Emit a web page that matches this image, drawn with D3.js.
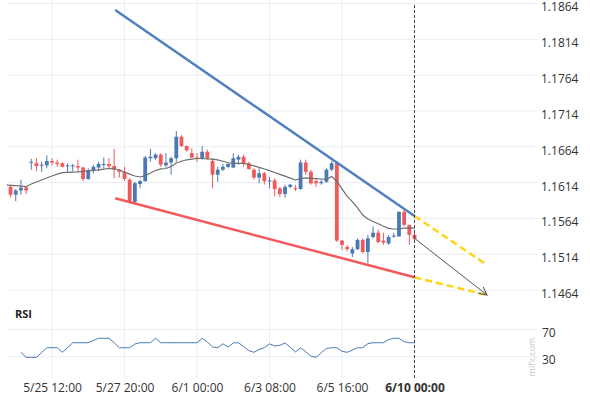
<!DOCTYPE html>
<html>
<head>
<meta charset="utf-8">
<script src="https://cdn.jsdelivr.net/npm/d3@7"></script>
<style>
  body { margin: 0; background: #fff; }
  svg text { font-family: "Open Sans", sans-serif; }
</style>
</head>
<body>
<div id="chart"></div>
<script>
// tick labels on the time axis (category index of the 4h candle they sit on)
var tickLabels = ["5/25 12:00", "5/27 20:00", "6/1 00:00", "6/3 08:00", "6/5 16:00", "6/10 00:00"]
var tickIndex = [9, 23, 37, 51, 65, 79]
var priceTicks = [1.1464, 1.1514, 1.1564, 1.1614, 1.1664, 1.1714, 1.1764, 1.1814, 1.1864]
var rsiTicks = [30, 70]

// candles
var open = [1.1612,1.1608,1.1597,1.1603,1.1607,1.1642,1.1641,1.1638,1.1638,1.1644,
  1.1642,1.1641,1.1637,1.1637,1.1637,1.1635,1.1619,1.1631,1.1635,1.1639,
  1.1640,1.1637,1.1632,1.1629,1.1618,1.1587,1.1612,1.1616,1.1648,1.1648,
  1.1653,1.1638,1.1642,1.1648,1.1678,1.1665,1.1655,1.1649,1.1648,1.1657,
  1.1644,1.1625,1.1632,1.1636,1.1635,1.1646,1.1650,1.1641,1.1632,1.1621,
  1.1627,1.1616,1.1617,1.1606,1.1598,1.1608,1.1606,1.1605,1.1642,1.1629,
  1.1616,1.1613,1.1615,1.1632,1.1641,1.1533,1.1524,1.1515,1.1521,1.1534,
  1.1517,1.1538,1.1544,1.1533,1.1529,1.1539,1.1539,1.1573,1.1555,1.1541]
var high = [1.1614,1.1611,1.1605,1.1618,1.1608,1.1647,1.1648,1.1643,1.1652,1.1648,
  1.1646,1.1642,1.1641,1.1640,1.1646,1.1636,1.1634,1.1639,1.1643,1.1649,
  1.1648,1.1661,1.1632,1.1636,1.1620,1.1615,1.1618,1.1651,1.1661,1.1655,
  1.1655,1.1655,1.1650,1.1686,1.1680,1.1666,1.1662,1.1655,1.1665,1.1660,
  1.1648,1.1636,1.1640,1.1641,1.1655,1.1653,1.1653,1.1643,1.1634,1.1634,
  1.1629,1.1622,1.1620,1.1608,1.1611,1.1612,1.1611,1.1646,1.1646,1.1632,
  1.1620,1.1618,1.1634,1.1644,1.1643,1.1534,1.1527,1.1524,1.1536,1.1536,
  1.1541,1.1553,1.1548,1.1544,1.1541,1.1544,1.1574,1.1577,1.1555,1.1545]
var low = [1.1606,1.1593,1.1588,1.1597,1.1598,1.1632,1.1630,1.1629,1.1634,1.1638,
  1.1636,1.1635,1.1629,1.1630,1.1629,1.1616,1.1618,1.1627,1.1630,1.1634,
  1.1634,1.1620,1.1621,1.1616,1.1585,1.1585,1.1606,1.1615,1.1643,1.1646,
  1.1636,1.1635,1.1625,1.1643,1.1664,1.1657,1.1648,1.1643,1.1646,1.1646,
  1.1606,1.1615,1.1630,1.1634,1.1634,1.1639,1.1636,1.1632,1.1618,1.1613,
  1.1611,1.1606,1.1595,1.1594,1.1593,1.1606,1.1602,1.1604,1.1625,1.1611,
  1.1608,1.1611,1.1614,1.1630,1.1531,1.1520,1.1518,1.1510,1.1520,1.1515,
  1.1501,1.1536,1.1529,1.1527,1.1527,1.1537,1.1538,1.1553,1.1527,1.1534]
var close = [1.1609,1.1597,1.1603,1.1607,1.1603,1.1643,1.1637,1.1639,1.1644,1.1642,
  1.1640,1.1636,1.1638,1.1638,1.1635,1.1619,1.1631,1.1636,1.1640,1.1640,
  1.1637,1.1632,1.1629,1.1619,1.1587,1.1613,1.1616,1.1649,1.1650,1.1653,
  1.1639,1.1642,1.1648,1.1678,1.1665,1.1659,1.1649,1.1648,1.1657,1.1648,
  1.1625,1.1632,1.1636,1.1640,1.1648,1.1650,1.1641,1.1633,1.1621,1.1627,
  1.1616,1.1617,1.1605,1.1598,1.1608,1.1611,1.1605,1.1642,1.1629,1.1613,
  1.1613,1.1615,1.1632,1.1641,1.1533,1.1527,1.1521,1.1521,1.1534,1.1517,
  1.1536,1.1544,1.1531,1.1530,1.1538,1.1540,1.1573,1.1555,1.1541,1.1535]

// grey moving average line
var ma = [1.16106,1.16102,1.16096,1.16089,1.16082,1.16120,1.16148,1.16176,1.16204,1.16232,
  1.16257,1.16278,1.16282,1.16286,1.16290,1.16296,1.16303,1.16311,1.16318,1.16328,
  1.16336,1.16333,1.16315,1.16287,1.16258,1.16232,1.16218,1.16236,1.16273,1.16308,
  1.16331,1.16336,1.16364,1.16413,1.16437,1.16458,1.16468,1.16476,1.16476,1.16472,
  1.16468,1.16456,1.16437,1.16417,1.16409,1.16409,1.16409,1.16392,1.16373,1.16352,
  1.16329,1.16306,1.16280,1.16255,1.16229,1.16202,1.16176,1.16195,1.16205,1.16199,
  1.16194,1.16190,1.16185,1.16225,1.16159,1.16051,1.15947,1.15873,1.15785,1.15687,
  1.15631,1.15596,1.15566,1.15529,1.15500,1.15492,1.15492,1.15503,1.15508,1.15504]

// RSI panel
var rsi = [null,null,null,36.4,29.1,29.1,29.1,36.1,43.1,43.1,
  43.1,36.4,43.1,50.4,50.4,50.4,50.4,53.7,56.9,56.9,
  56.9,50.4,43.1,43.1,43.1,48.5,50.4,50.4,50.4,56.9,
  50.4,50.4,50.4,50.4,50.4,50.4,50.4,50.4,56.9,51.5,
  44.2,43.1,48.8,44.2,50.0,50.4,44.9,38.9,36.4,40.7,
  43.1,48.7,45.6,46.6,50.0,43.9,37.0,42.8,37.3,30.7,
  29.1,35.8,42.0,43.1,43.1,37.9,36.4,39.5,43.1,43.1,
  49.1,50.4,50.4,50.4,55.0,56.9,56.9,51.8,50.4,50.4]

// drawn annotations: [candle index, price]
var upperTrend = [[21.2, 1.18549], [79, 1.15673]]
var lowerTrend = [[21.2, 1.15920], [79, 1.14817]]
var upperForecast = [[79, 1.15673], [93, 1.14989]]
var lowerForecast = [[79, 1.14817], [93, 1.14570]]
var arrowPath = [[79, 1.15362], [93, 1.14570]]

var width = 590,
    height = 400,
    plotLeft = 7,
    plotRight = 538

var upColor = "#4a79b6",
    downColor = "#f05a5b",
    gridColor = "#e8eef5"

let svg = d3.select("#chart")
  .append("svg")
    .attr("width", width)
    .attr("height", height)

var x = d3.scaleLinear().domain([9, 79]).range([52, 414.5])
var y = d3.scaleLinear().domain([1.1464, 1.1864]).range([290, 3.5])
var yR = d3.scaleLinear().domain([30, 70]).range([356.7, 329.3])

svg.append("defs").append("clipPath")
    .attr("id", "plotclip")
  .append("rect")
    .attr("x", plotLeft).attr("y", 0)
    .attr("width", plotRight - plotLeft).attr("height", 380)

svg.append("defs").append("marker")
    .attr("id", "arrowhead")
    .attr("viewBox", "0 0 10 10")
    .attr("refX", 9).attr("refY", 5)
    .attr("markerWidth", 10).attr("markerHeight", 10)
    .attr("markerUnits", "userSpaceOnUse")
    .attr("orient", "auto")
  .append("path")
    .attr("d", "M1,1 L9,5 L1,9")
    .attr("fill", "none")
    .attr("stroke", "#555")
    .attr("stroke-width", 1)

// grid
svg.append("g")
  .selectAll("line")
  .data(priceTicks)
  .enter()
  .append("line")
    .attr("x1", plotLeft).attr("x2", plotRight)
    .attr("y1", d => y(d)).attr("y2", d => y(d))
    .attr("stroke", gridColor)

svg.append("g")
  .selectAll("line")
  .data(rsiTicks)
  .enter()
  .append("line")
    .attr("x1", plotLeft).attr("x2", plotRight)
    .attr("y1", d => yR(d)).attr("y2", d => yR(d))
    .attr("stroke", gridColor)

svg.append("g")
  .selectAll("line")
  .data(tickIndex)
  .enter()
  .append("line")
    .attr("x1", d => x(d)).attr("x2", d => x(d))
    .attr("y1", 0).attr("y2", 378)
    .attr("stroke", gridColor)

// candles
var candles = open.map(function(o, i) {
  return {i: i, o: o, h: high[i], l: low[i], c: close[i]}
})
var bodyW = 3.8

var cg = svg.append("g").attr("clip-path", "url(#plotclip)")

cg.selectAll(".wick")
  .data(candles)
  .enter()
  .append("line")
    .attr("class", "wick")
    .attr("x1", d => x(d.i)).attr("x2", d => x(d.i))
    .attr("y1", d => y(d.h)).attr("y2", d => y(d.l))
    .attr("stroke", d => d.c >= d.o ? upColor : downColor)
    .attr("stroke-width", 1)

cg.selectAll(".body")
  .data(candles)
  .enter()
  .append("rect")
    .attr("class", "body")
    .attr("x", d => x(d.i) - bodyW / 2)
    .attr("width", bodyW)
    .attr("y", d => y(Math.max(d.o, d.c)))
    .attr("height", d => Math.max(1, Math.abs(y(d.o) - y(d.c))))
    .attr("fill", d => d.c >= d.o ? upColor : downColor)

// moving average
var line = d3.line()
  .x(d => x(d[0]))
  .y(d => y(d[1]))

cg.append("path")
  .datum(ma.map((v, i) => [i, v]))
  .attr("d", line)
  .attr("fill", "none")
  .attr("stroke", "#6e6e6e")
  .attr("stroke-width", 1.2)

// trend channel
svg.append("path")
  .datum(upperTrend)
  .attr("d", line)
  .attr("stroke", "#4f7fbd")
  .attr("stroke-width", 2.5)

svg.append("path")
  .datum(lowerTrend)
  .attr("d", line)
  .attr("stroke", "#f2595b")
  .attr("stroke-width", 2.5)

svg.selectAll(".forecast")
  .data([upperForecast, lowerForecast])
  .enter()
  .append("path")
    .attr("class", "forecast")
    .attr("d", line)
    .attr("stroke", "#ffd419")
    .attr("stroke-width", 2.5)
    .attr("stroke-dasharray", "7,4")

svg.append("path")
  .datum(arrowPath)
  .attr("d", line)
  .attr("stroke", "#555")
  .attr("stroke-width", 1)
  .attr("marker-end", "url(#arrowhead)")

// "now" marker
svg.append("line")
  .attr("x1", x(79)).attr("x2", x(79))
  .attr("y1", 5).attr("y2", 378)
  .attr("stroke", "#444")
  .attr("stroke-dasharray", "3,2")

// RSI line
var rsiLine = d3.line()
  .defined(d => d[1] != null)
  .x(d => x(d[0]))
  .y(d => yR(d[1]))

svg.append("path")
  .datum(rsi.map((v, i) => [i, v]))
  .attr("d", rsiLine)
  .attr("fill", "none")
  .attr("stroke", "#4a79b6")
  .attr("stroke-width", 1)

// axes
var yAxis = d3.axisRight(y)
  .tickValues(priceTicks)
  .tickFormat(d3.format(".4f"))
  .tickSize(0)
  .tickPadding(3)

svg.append("g")
  .attr("transform", "translate(" + plotRight + ",0)")
  .call(yAxis)
  .call(g => g.select(".domain").remove())
  .selectAll("text")
    .attr("dy", "0.62em")
    .attr("font-size", 12)
    .attr("fill", "#333")
    .style("font-family", "'Open Sans', sans-serif")

var rAxis = d3.axisRight(yR)
  .tickValues(rsiTicks)
  .tickSize(0)
  .tickPadding(4)

svg.append("g")
  .attr("transform", "translate(" + plotRight + ",0)")
  .call(rAxis)
  .call(g => g.select(".domain").remove())
  .selectAll("text")
    .attr("dy", "0.56em")
    .attr("font-size", 12)
    .attr("fill", "#333")
    .style("font-family", "'Open Sans', sans-serif")

var xAxis = d3.axisBottom(x)
  .tickValues(tickIndex)
  .tickFormat((d, i) => tickLabels[i])
  .tickSize(0)
  .tickPadding(5)

svg.append("g")
  .attr("transform", "translate(0,378)")
  .call(xAxis)
  .call(g => g.select(".domain").remove())
  .selectAll("text")
    .attr("font-size", 12)
    .attr("fill", "#333")
    .attr("font-weight", (d, i) => i == tickLabels.length - 1 ? "bold" : "normal")
    .style("font-family", "'Open Sans', sans-serif")

svg.append("text")
  .attr("x", 15)
  .attr("y", 318)
  .attr("font-size", 11)
  .attr("font-weight", "bold")
  .attr("fill", "#222")
  .text("RSI")

// watermark
svg.append("text")
  .attr("transform", "translate(535,357) rotate(-90)")
  .attr("text-anchor", "middle")
  .attr("font-size", 9)
  .attr("fill", "#c8c8c8")
  .text("mifx.com")
</script>
</body>
</html>
